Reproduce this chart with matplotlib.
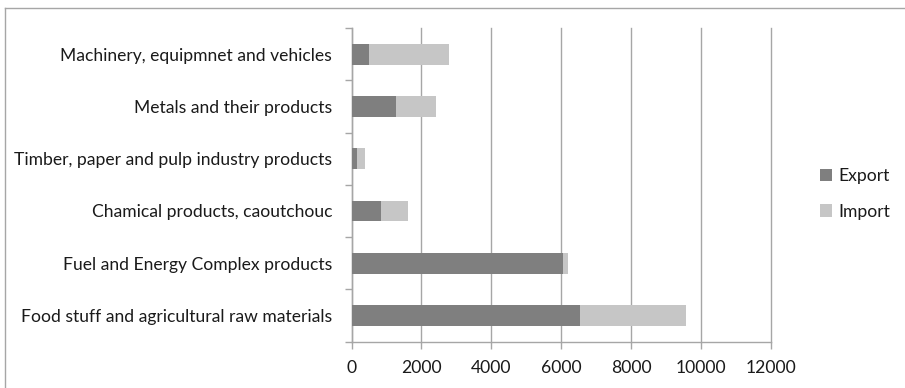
import matplotlib
matplotlib.use('Agg')
import matplotlib.pyplot as plt
from matplotlib.lines import Line2D
import numpy as np

plt.rcParams['font.family'] = ['Lato', 'DejaVu Sans']

categories = ['Food stuff and agricultural raw materials',
              'Fuel and Energy Complex products',
              'Chamical products, caoutchouc',
              'Timber, paper and pulp industry products',
              'Metals and their products',
              'Machinery, equipmnet and vehicles']
export = [6550, 6060, 840, 150, 1270, 510]
imports = [3010, 120, 790, 235, 1140, 2270]
xticks = [0, 2000, 4000, 6000, 8000, 10000, 12000]

export_color = '#7f7f7f'
import_color = '#c6c6c6'
grid_color = '#a6a6a6'
text_color = '#1a1a1a'
fs = 12.6

fig = plt.figure(figsize=(9.05, 3.88), dpi=100)
ax = fig.add_axes([351.5 / 905, 1 - 341.7 / 388, (771 - 351.5) / 905, (341.7 - 28) / 388])

y = np.arange(len(categories))
ax.barh(y, export, height=0.4, color=export_color, label='Export', zorder=3)
ax.barh(y, imports, left=export, height=0.4, color=import_color, label='Import', zorder=3)

ax.set_xlim(0, 12000)
ax.set_ylim(-0.5, len(categories) - 0.5)
ax.set_xticks(xticks)
ax.set_xticklabels([str(v) for v in xticks])
ax.set_yticks(y)
ax.set_yticklabels(categories)
ax.set_yticks(np.arange(-0.5, len(categories)), minor=True)

ax.grid(axis='x', color=grid_color, linewidth=1.0, zorder=0)
for gl in ax.get_xgridlines():
    gl.set_clip_on(False)
for side in ('top', 'right'):
    ax.spines[side].set_visible(False)
for side in ('left', 'bottom'):
    ax.spines[side].set_color(grid_color)
    ax.spines[side].set_linewidth(1.0)

ax.tick_params(axis='y', which='major', length=0, pad=14, labelsize=fs, labelcolor=text_color)
ax.tick_params(axis='y', which='minor', length=5, color=grid_color, width=1.0)
ax.tick_params(axis='x', which='major', length=5, color=grid_color, width=1.0,
               pad=8, labelsize=fs, labelcolor=text_color)

leg = ax.legend(loc='center left', bbox_to_anchor=(804 / 905, 0.5), bbox_transform=fig.transFigure,
                frameon=False, fontsize=fs, handlelength=0.7, handleheight=0.7,
                handletextpad=0.35, labelspacing=1.1)
for t in leg.get_texts():
    t.set_color(text_color)

# chart area frame (left and top edges)
fig.add_artist(Line2D([4.5 / 905, 4.5 / 905], [0, 1 - 7.5 / 388], transform=fig.transFigure,
                      color=grid_color, linewidth=1.0))
fig.add_artist(Line2D([4.5 / 905, 1], [1 - 7.5 / 388, 1 - 7.5 / 388], transform=fig.transFigure,
                      color=grid_color, linewidth=1.0))

fig.savefig('out.png', dpi=100)
